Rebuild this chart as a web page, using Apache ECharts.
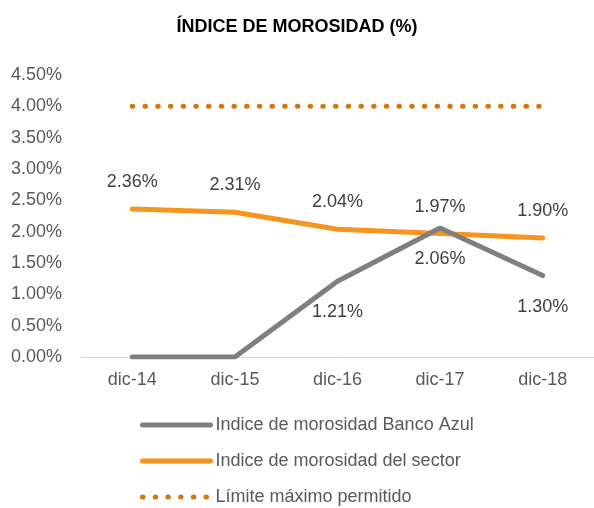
<!DOCTYPE html>
<html>
<head>
<meta charset="utf-8">
<script src="https://cdn.jsdelivr.net/npm/echarts@6/dist/echarts.min.js"></script>
<style>
  html, body { margin: 0; padding: 0; background: #fff; }
  #chart { width: 594px; height: 508px; }
</style>
</head>
<body>
<div id="chart"></div>
<script>
const categories = ['dic-14', 'dic-15', 'dic-16', 'dic-17', 'dic-18'];
const bancoAzul = [0, 0, 1.21, 2.06, 1.30];
const sector = [2.36, 2.31, 2.04, 1.97, 1.90];
const limite = [4, 4, 4, 4, 4];

const myChart = echarts.init(document.getElementById('chart'));
const font = 'Liberation Sans, Arial, sans-serif';

const option = {
  textStyle: { fontFamily: font },
  title: {
    text: 'ÍNDICE DE MOROSIDAD (%)',
    left: 'center',
    top: 13,
    textStyle: { fontSize: 18, fontWeight: 'bold', color: '#000', fontFamily: font }
  },
  legend: {
    orient: 'vertical',
    left: 135,
    top: 411,
    height: 100,
    itemWidth: 68,
    itemHeight: 14,
    itemGap: 18,
    itemStyle: { opacity: 0 },
    lineStyle: { width: 5 },
    textStyle: { fontSize: 18, color: '#595959', fontFamily: font },
    data: ['Indice de morosidad Banco Azul', 'Indice de morosidad del sector', 'Límite máximo permitido']
  },
  grid: { left: 81, width: 515, top: 75, height: 282 },
  xAxis: {
    type: 'category',
    data: categories,
    axisLine: { lineStyle: { color: '#d9d9d9', width: 1 } },
    axisTick: { show: false },
    axisLabel: { color: '#595959', fontSize: 18, margin: 14, fontFamily: font }
  },
  yAxis: {
    type: 'value',
    min: 0,
    max: 4.5,
    interval: 0.5,
    splitLine: { show: false },
    axisLine: { show: false },
    axisTick: { show: false },
    axisLabel: {
      color: '#595959', fontSize: 18, margin: 19, fontFamily: font,
      formatter: v => v.toFixed(2) + '%'
    }
  },
  series: [
    {
      name: 'Indice de morosidad Banco Azul',
      type: 'line',
      data: bancoAzul,
      symbol: 'circle',
      symbolSize: 0.01,
      lineStyle: { color: '#7f7f7f', width: 5, cap: 'round' },
      itemStyle: { color: '#7f7f7f' },
      label: {
        show: true,
        position: 'bottom',
        distance: 22,
        color: '#404040',
        fontSize: 18,
        fontFamily: font,
        formatter: p => p.value === 0 ? '' : p.value.toFixed(2) + '%'
      },
      z: 3
    },
    {
      name: 'Indice de morosidad del sector',
      type: 'line',
      data: sector,
      symbol: 'circle',
      symbolSize: 0.01,
      lineStyle: { color: '#f7941d', width: 5, cap: 'round' },
      itemStyle: { color: '#f7941d' },
      label: {
        show: true,
        position: 'top',
        distance: 18,
        color: '#404040',
        fontSize: 18,
        fontFamily: font,
        formatter: p => p.value.toFixed(2) + '%'
      },
      z: 2
    },
    {
      name: 'Límite máximo permitido',
      type: 'line',
      data: limite,
      symbol: 'none',
      lineStyle: { color: '#d4760f', width: 5, type: [0.5, 12.2], cap: 'round' },
      itemStyle: { color: '#d4760f' },
      z: 1
    }
  ]
};

myChart.setOption(option);
</script>
</body>
</html>
